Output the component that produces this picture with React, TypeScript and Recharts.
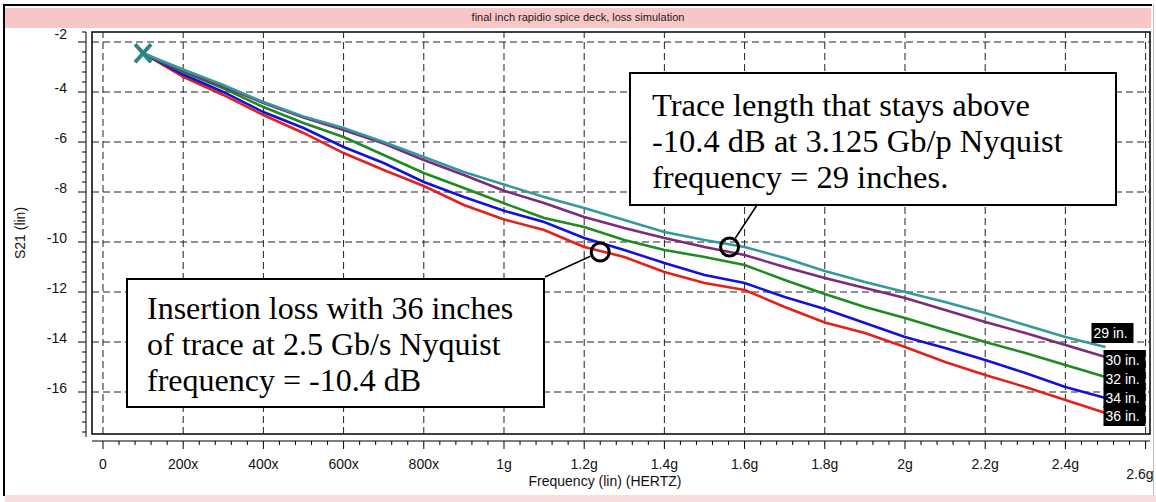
import React from "react";
import {
  LineChart,
  Line,
  XAxis,
  YAxis,
  ReferenceLine,
  ReferenceArea,
  ReferenceDot,
} from "recharts";

// frequency in GHz, S21 in dB
const freqGHz = [
  0.1, 0.2, 0.3, 0.4, 0.5, 0.6, 0.7, 0.8, 0.9, 1.0, 1.1, 1.2, 1.3, 1.4, 1.5,
  1.6, 1.7, 1.8, 1.9, 2.0, 2.1, 2.2, 2.3, 2.4, 2.5,
];
const loss29 = [
  -2.45, -3.1, -3.72, -4.4, -4.98, -5.44, -6.0, -6.6, -7.2, -7.7, -8.2, -8.64,
  -9.12, -9.6, -9.92, -10.2, -10.64, -11.16, -11.6, -12.0, -12.4, -12.84,
  -13.32, -13.8, -14.2,
];
const loss30 = [
  -2.45, -3.15, -3.78, -4.44, -5.02, -5.52, -6.06, -6.72, -7.32, -7.95, -8.44,
  -9.0, -9.44, -9.84, -10.2, -10.52, -11.0, -11.44, -11.84, -12.24, -12.72,
  -13.2, -13.64, -14.12, -14.6,
];
const loss32 = [
  -2.45, -3.2, -3.85, -4.6, -5.24, -5.8, -6.52, -7.24, -7.84, -8.45, -9.04,
  -9.4, -9.92, -10.32, -10.6, -10.92, -11.52, -12.08, -12.6, -13.04, -13.52,
  -14.0, -14.44, -14.92, -15.4,
];
const loss34 = [
  -2.45, -3.3, -4.0, -4.8, -5.44, -6.2, -6.84, -7.6, -8.2, -8.75, -9.2, -9.84,
  -10.32, -10.84, -11.32, -11.64, -12.2, -12.68, -13.24, -13.8, -14.24, -14.72,
  -15.24, -15.8, -16.24,
];
const loss36 = [
  -2.45, -3.4, -4.12, -4.92, -5.64, -6.44, -7.12, -7.76, -8.52, -9.1, -9.52,
  -10.2, -10.6, -11.2, -11.64, -11.92, -12.6, -13.22, -13.64, -14.2, -14.8,
  -15.32, -15.8, -16.32, -16.84,
];

const xMajorTicks = [0, 0.2, 0.4, 0.6, 0.8, 1, 1.2, 1.4, 1.6, 1.8, 2, 2.2, 2.4, 2.6];
const xTickLabels = [
  "0", "200x", "400x", "600x", "800x", "1g", "1.2g", "1.4g", "1.6g", "1.8g",
  "2g", "2.2g", "2.4g", "2.6g",
];
const yMajorTicks = [-2, -4, -6, -8, -10, -12, -14, -16];
const yTickLabels = ["-2", "-4", "-6", "-8", "-10", "-12", "-14", "-16"];

const X_MIN = -0.0274;
const X_MAX = 2.611;
const Y_MIN = -17.68;
const Y_MAX = -1.6;

const data = freqGHz.map((f, i) => ({
  f,
  s29: loss29[i],
  s30: loss30[i],
  s32: loss32[i],
  s34: loss34[i],
  s36: loss36[i],
}));

const series = [
  { key: "s36", name: "36 in.", color: "#e5201a", dx: -2, dy: 3, last: loss36[loss36.length - 1] },
  { key: "s34", name: "34 in.", color: "#1111dd", dx: -2, dy: 0, last: loss34[loss34.length - 1] },
  { key: "s32", name: "32 in.", color: "#1f8a1f", dx: -2, dy: 2, last: loss32[loss32.length - 1] },
  { key: "s30", name: "30 in.", color: "#7c2a80", dx: -2, dy: 3, last: loss30[loss30.length - 1] },
  { key: "s29", name: "29 in.", color: "#33999a", dx: -14, dy: -14, last: loss29[loss29.length - 1] },
];

// minor ticks: every 40 MHz, every 0.4 dB
const xTicks: number[] = [];
for (let i = 0; i <= 65; i++) xTicks.push(Math.round(i * 4) / 100);
const yTicks: number[] = [];
for (let i = 0; i <= 40; i++) yTicks.push(Math.round((-1.6 - 0.4 * i) * 10) / 10);

const sans = "'Liberation Sans', Arial, sans-serif";
const serif = "'Liberation Serif', 'Times New Roman', serif";

function XTick(props: any) {
  const { x, y, payload } = props;
  const idx = xMajorTicks.findIndex((m) => Math.abs(m - payload.value) < 1e-6);
  const major = idx >= 0;
  const last = idx === xMajorTicks.length - 1;
  return (
    <g>
      <line x1={x} x2={x} y1={y + 7} y2={y + (major ? 15 : 11)} stroke="#000" />
      {major && (
        <text
          x={last ? x + 8 : x}
          y={y + (last ? 45 : 35)}
          textAnchor={last ? "end" : "middle"}
          fontSize={14}
          fontFamily={sans}
          fill="#111"
        >
          {xTickLabels[idx]}
        </text>
      )}
    </g>
  );
}

function YTick(props: any) {
  const { x, y, payload } = props;
  const idx = yMajorTicks.findIndex((m) => Math.abs(m - payload.value) < 1e-6);
  const major = idx >= 0;
  return (
    <g>
      <line x1={x - 6 - (major ? 8 : 4)} x2={x - 6} y1={y} y2={y} stroke="#000" />
      {major && (
        <text
          x={x - 25}
          y={idx === 0 ? y - 8 : y - 4}
          dy="0.35em"
          textAnchor="end"
          fontSize={14}
          fontFamily={sans}
          fill="#111"
        >
          {yTickLabels[idx]}
        </text>
      )}
    </g>
  );
}

function EndLabel(props: any, s: any) {
  const vb = props.viewBox || {};
  const x = props.x ?? vb.x;
  const y = props.y ?? vb.y;
  const isLast =
    props.index === freqGHz.length - 1 ||
    (props.index == null && props.value === s.last);
  if (!isLast || x == null) return null;
  const lx = x + s.dx;
  const ly = y + s.dy;
  return (
    <g key={`lbl-${s.key}`}>
      <rect x={lx} y={ly - 10} width={42} height={20} fill="#000" />
      <text x={lx + 2} y={ly + 5} fontSize={14} fontFamily={sans} fill="#fff">
        {s.name}
      </text>
    </g>
  );
}

function StartCross(p: any, color: string) {
  if (p.index !== 0) return <g key={`d-${p.index}`} />;
  const { cx, cy } = p;
  return (
    <path
      key="start-x"
      d={`M${cx - 8},${cy - 9}L${cx + 8},${cy + 9}M${cx + 8},${cy - 9}L${cx - 8},${cy + 9}`}
      stroke={color}
      strokeWidth={4}
      fill="none"
    />
  );
}

const boxStyle: React.CSSProperties = {
  position: "absolute",
  background: "#fff",
  border: "2px solid #000",
  boxSizing: "border-box",
  fontFamily: serif,
  fontSize: 32,
  lineHeight: "36px",
  color: "#000",
  whiteSpace: "nowrap",
  zIndex: 2,
};

export default function App() {
  return (
    <div
      style={{
        position: "absolute",
        left: 0,
        top: 0,
        width: 1156,
        height: 502,
        background: "#fff",
        overflow: "hidden",
      }}
    >
      {/* window chrome */}
      <div style={{ position: "absolute", left: 3, top: 4, width: 1149, height: 2, background: "#000" }} />
      <div style={{ position: "absolute", left: 3, top: 4, width: 2, height: 492, background: "#000" }} />
      <div style={{ position: "absolute", left: 1153, top: 4, width: 1, height: 492, background: "#bbb" }} />
      <div style={{ position: "absolute", left: 5, top: 495, width: 1151, height: 7, background: "#f8dede" }} />
      <div
        style={{
          position: "absolute",
          left: 5,
          top: 8,
          width: 1146,
          height: 20,
          background: "#f8c6c6",
          textAlign: "center",
          fontFamily: sans,
          fontSize: 11,
          lineHeight: "18px",
          color: "#222",
        }}
      >
        final inch rapidio spice deck, loss simulation
      </div>

      <LineChart
        width={1156}
        height={502}
        data={data}
        margin={{ top: 32, right: 6, bottom: 0, left: 0 }}
      >
        <XAxis
          dataKey="f"
          type="number"
          domain={[X_MIN, X_MAX]}
          allowDataOverflow
          ticks={xTicks}
          interval={0}
          tickSize={0}
          tickMargin={0}
          axisLine={false}
          tickLine={false}
          tick={(p: any) => <XTick {...p} />}
          height={68}
          label={(p: any) => {
            const vb = p.viewBox;
            return (
              <text
                x={vb.x + vb.width / 2 - 16}
                y={vb.y + 52}
                textAnchor="middle"
                fontSize={14}
                fontFamily={sans}
                fill="#111"
              >
                Frequency (lin) (HERTZ)
              </text>
            );
          }}
        />
        <YAxis
          type="number"
          domain={[Y_MIN, Y_MAX]}
          allowDataOverflow
          ticks={yTicks}
          interval={0}
          tickSize={0}
          tickMargin={0}
          axisLine={false}
          tickLine={false}
          tick={(p: any) => <YTick {...p} />}
          width={92}
          label={(p: any) => {
            const vb = p.viewBox;
            const cx = vb.x + 20;
            const cy = vb.y + vb.height / 2;
            return (
              <text
                x={cx}
                y={cy}
                transform={`rotate(-90 ${cx} ${cy})`}
                textAnchor="middle"
                dy="0.35em"
                fontSize={14}
                fontFamily={sans}
                fill="#111"
              >
                S21 (lin)
              </text>
            );
          }}
        />

        {xMajorTicks.map((v) => (
          <ReferenceLine key={`gx${v}`} x={v} stroke="#222" strokeDasharray="7 4" />
        ))}
        {yMajorTicks.map((v) => (
          <ReferenceLine key={`gy${v}`} y={v} stroke="#222" strokeDasharray="7 4" />
        ))}
        <ReferenceArea
          x1={X_MIN}
          x2={X_MAX}
          y1={Y_MIN}
          y2={Y_MAX}
          fill="none"
          fillOpacity={0}
          stroke="#000"
          strokeWidth={1.5}
        />
        {/* detached axis lines */}
        <ReferenceLine
          ifOverflow="visible"
          segment={[
            { x: X_MIN, y: -17.96 },
            { x: X_MAX, y: -17.96 },
          ]}
          stroke="#000"
        />
        <ReferenceLine
          ifOverflow="visible"
          segment={[
            { x: -0.0424, y: -1.6 },
            { x: -0.0424, y: -17.8 },
          ]}
          stroke="#000"
        />

        {series.map((s) => (
          <Line
            key={s.key}
            type="linear"
            dataKey={s.key}
            stroke={s.color}
            strokeWidth={2.5}
            dot={s.key === "s29" ? (p: any) => StartCross(p, "#2f8384") : false}
            activeDot={false}
            isAnimationActive={false}
            label={(p: any) => EndLabel(p, s)}
          />
        ))}

        {/* annotation markers */}
        <ReferenceDot x={1.24} y={-10.4} r={9} fill="none" stroke="#000" strokeWidth={3} />
        <ReferenceDot x={1.5625} y={-10.2} r={9} fill="none" stroke="#000" strokeWidth={3} />
        <ReferenceLine
          segment={[
            { x: 1.1022, y: -11.4 },
            { x: 1.2155, y: -10.57 },
          ]}
          stroke="#000"
          strokeWidth={1.5}
        />
        <ReferenceLine
          segment={[
            { x: 1.631, y: -8.52 },
            { x: 1.5768, y: -9.85 },
          ]}
          stroke="#000"
          strokeWidth={1.5}
        />
      </LineChart>

      <div style={{ ...boxStyle, left: 629, top: 72, width: 488, height: 134, padding: "13px 0 0 21px", fontSize: 32.5 }}>
        <div>Trace length that stays above</div>
        <div>-10.4 dB at 3.125 Gb/p Nyquist</div>
        <div>frequency = 29 inches.</div>
      </div>
      <div style={{ ...boxStyle, left: 126, top: 278, width: 419, height: 130, padding: "10px 0 0 19px" }}>
        <div>Insertion loss with 36 inches</div>
        <div>of trace at 2.5 Gb/s Nyquist</div>
        <div>frequency = -10.4 dB</div>
      </div>
    </div>
  );
}
